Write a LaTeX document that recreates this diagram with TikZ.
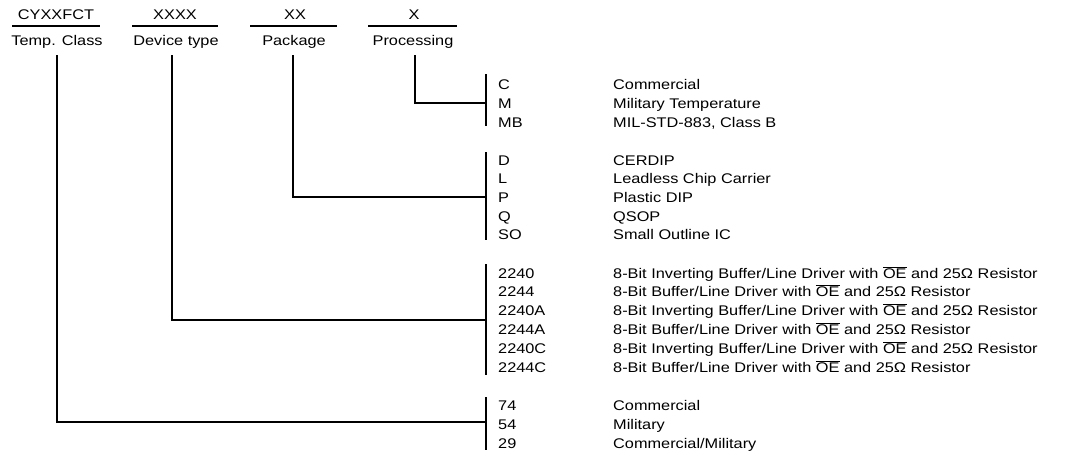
\documentclass[tikz,border=0pt]{standalone}
\usepackage{fontspec}
\setmainfont{Liberation Sans}[FakeStretch=1.165]
\newcommand{\OEbar}{$\overline{\mbox{OE}}$}
\begin{document}
\begin{tikzpicture}[x=1pt,y=-1pt,
  font=\fontsize{14}{16}\selectfont,
  txt/.style={inner sep=0pt,text height=10pt,text depth=0pt,anchor=west},
  hdr/.style={inner sep=0pt,text height=10pt,text depth=0pt},
  ln/.style={line width=1.8pt},
  hl/.style={line width=1.4pt}]
\useasboundingbox[fill=white] (0,0) rectangle (1068,451);

% header
\node[hdr] (h1) at (56,14) {CYXXFCT};
\node[hdr] (h2) at (175,14) {XXXX};
\node[hdr] (h3) at (295,14) {XX};
\node[hdr] (h4) at (414,14) {X};
\draw[hl] (12,26) -- (100,26);
\draw[hl] (132,26) -- (218,26);
\draw[hl] (250,26) -- (337,26);
\draw[hl] (368,26) -- (457,26);
\node[hdr] (l1) at (57,40) {Temp. Class};
\node[hdr] (l2) at (176,40) {Device type};
\node[hdr] (l3) at (294,40) {Package};
\node[hdr] (l4) at (413,40) {Processing};

% processing
\foreach \n/\c/\d/\y in {p1/C/Commercial/84, p2/M/Military Temperature/103, p3/MB/{MIL-STD-883, Class B}/122}{
  \node[txt] (c\n) at (498,\y) {\c};
  \node[txt] (d\n) at (613,\y) {\d};
}
% package
\foreach \n/\c/\d/\y in {k1/D/CERDIP/160, k2/L/Leadless Chip Carrier/178.5, k3/P/Plastic DIP/197, k4/Q/QSOP/216, k5/SO/Small Outline IC/234.5}{
  \node[txt] (c\n) at (498,\y) {\c};
  \node[txt] (d\n) at (613,\y) {\d};
}
% device
\foreach \n/\c/\d/\y in {
  v1/2240/{8-Bit Inverting Buffer/Line Driver with \OEbar{} and 25Ω Resistor}/273,
  v2/2244/{8-Bit Buffer/Line Driver with \OEbar{} and 25Ω Resistor}/291.8,
  v3/2240A/{8-Bit Inverting Buffer/Line Driver with \OEbar{} and 25Ω Resistor}/310.6,
  v4/2244A/{8-Bit Buffer/Line Driver with \OEbar{} and 25Ω Resistor}/329.4,
  v5/2240C/{8-Bit Inverting Buffer/Line Driver with \OEbar{} and 25Ω Resistor}/348.2,
  v6/2244C/{8-Bit Buffer/Line Driver with \OEbar{} and 25Ω Resistor}/367}{
  \node[txt] (c\n) at (498,\y) {\c};
  \node[txt] (d\n) at (613,\y) {\d};
}
% temp class
\foreach \n/\c/\d/\y in {t1/74/Commercial/405.5, t2/54/Military/424.5, t3/29/{Commercial/Military}/443}{
  \node[txt] (c\n) at (498,\y) {\c};
  \node[txt] (d\n) at (613,\y) {\d};
}

% bars
\coordinate (pbt) at (486,74);  \coordinate (pbb) at (486,126);
\coordinate (kbt) at (486,152); \coordinate (kbb) at (486,240);
\coordinate (vbt) at (486,264); \coordinate (vbb) at (486,375);
\coordinate (tbt) at (486,397); \coordinate (tbb) at (486,450);
\draw[ln] (pbt) -- (pbb);
\draw[ln] (kbt) -- (kbb);
\draw[ln] (vbt) -- (vbb);
\draw[ln] (tbt) -- (tbb);

% connectors
\coordinate (ps) at (415,55); \coordinate (pj) at (486,103);
\coordinate (ks) at (293,55); \coordinate (kj) at (486,197);
\coordinate (vs) at (172,55); \coordinate (vj) at (486,320);
\coordinate (ts) at (57,55);  \coordinate (tj) at (486,422);
\draw[ln] (ps) |- (pj);
\draw[ln] (ks) |- (kj);
\draw[ln] (vs) |- (vj);
\draw[ln] (ts) |- (tj);
\end{tikzpicture}
\end{document}
